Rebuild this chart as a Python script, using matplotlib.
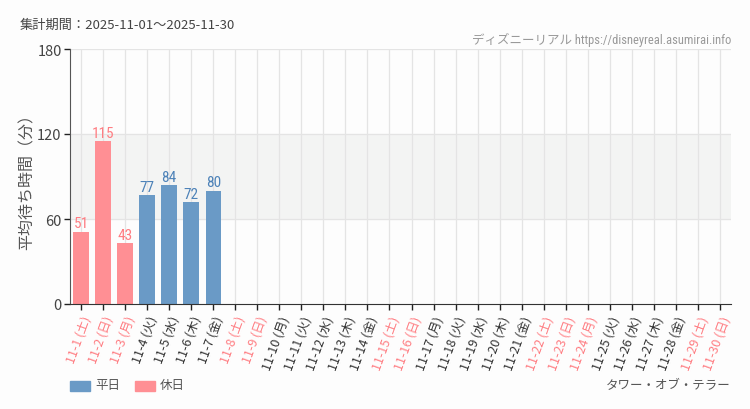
import numpy as np
import matplotlib.pyplot as plt

plt.rcParams['font.family'] = ['Noto Sans CJK JP', 'DejaVu Sans']

# data
days = [f"11-{d}" for d in range(1, 31)]
weekdays = ['土', '日', '月', '火', '水', '木', '金'] * 4 + ['土', '日']
holidays = [1, 2, 3, 8, 9, 15, 16, 22, 23, 24, 29, 30]
wait_vals = [51, 115, 43, 77, 84, 72, 80] + [np.nan] * 23

BlueBar = '#6a9ac6'
PinkBar = '#ff8f94'
BlueTxt = '#4d82b8'
PinkTxt = '#ff7d82'
NarrowFont = ['DejaVu Sans Condensed', 'Roboto Condensed', 'Roboto']

fig = plt.figure(figsize=(7.5, 4.1), dpi=100)
fig.patch.set_facecolor('#fdfdfd')
ax = fig.add_axes([70/750, 1-305/410, 661/750, 255/410])
ax.set_facecolor('#fdfdfd')

x = np.arange(len(days))
is_hol = [d in holidays for d in range(1, 31)]

ax.axhspan(60, 120, color='#f3f4f3', zorder=0)
for xi in x:
    ax.axvline(xi, color='#e4e4e4', lw=0.9, zorder=1)
for yv in [60, 120, 180]:
    ax.axhline(yv, color='#e4e4e4', lw=0.9, zorder=1)

for xi, v, h in zip(x, wait_vals, is_hol):
    if np.isnan(v):
        continue
    ax.bar(xi, v, width=0.7, color=PinkBar if h else BlueBar, zorder=2)
    ax.text(xi, v + 1.0, f"{v:d}", ha='center', va='bottom', fontsize=11,
            color=PinkTxt if h else BlueTxt, family=NarrowFont, zorder=3)

ax.set_xlim(-0.5, len(days) - 0.5)
ax.set_ylim(0, 180)
ax.set_yticks([0, 60, 120, 180])
ax.tick_params(axis='y', labelsize=10.5, colors='#222222', length=4, width=1, pad=2)
ax.tick_params(axis='x', length=4, width=1, colors='#222222', pad=3)
ax.set_xticks(x)
ax.set_xticklabels([f"{d} ({w})" for d, w in zip(days, weekdays)], rotation=70,
                   ha='right', va='top', rotation_mode='anchor', fontsize=9)
for lab, h in zip(ax.get_xticklabels(), is_hol):
    lab.set_color(PinkTxt if h else '#333333')
for lab in ax.get_yticklabels():
    lab.set_color('#444444')

for s in ['top', 'right']:
    ax.spines[s].set_visible(False)
ax.spines['left'].set_color('#555555')
ax.spines['bottom'].set_color('#333333')

ax.set_ylabel('平均待ち時間（分）', fontsize=11.5, color='#555555')
ax.yaxis.set_label_coords(-(70-36)/661, 0.5)

fig.text(20/750, 1-25/410, '集計期間：2025-11-01～2025-11-30', fontsize=9.5,
         color='#444444', va='center', ha='left')
fig.text(731/750, 1-40/410, 'ディズニーリアル https://disneyreal.asumirai.info',
         fontsize=9, color='#999999', va='center', ha='right',
         family=NarrowFont + ['Noto Sans CJK JP'])
fig.text(731/750, 1-386/410, 'タワー・オブ・テラー', fontsize=9,
         color='#555555', va='center', ha='right')

# legend
fig.patches.append(plt.Rectangle((70/750, 1-392/410), 20/750, 10/410,
                                 transform=fig.transFigure, color=BlueBar))
fig.text(95/750, 1-386/410, '平日', fontsize=9, color='#555555', va='center')
fig.patches.append(plt.Rectangle((135/750, 1-392/410), 20/750, 10/410,
                                 transform=fig.transFigure, color=PinkBar))
fig.text(160/750, 1-386/410, '休日', fontsize=9, color='#555555', va='center')

fig.savefig('out.png', dpi=100, facecolor=fig.get_facecolor())
